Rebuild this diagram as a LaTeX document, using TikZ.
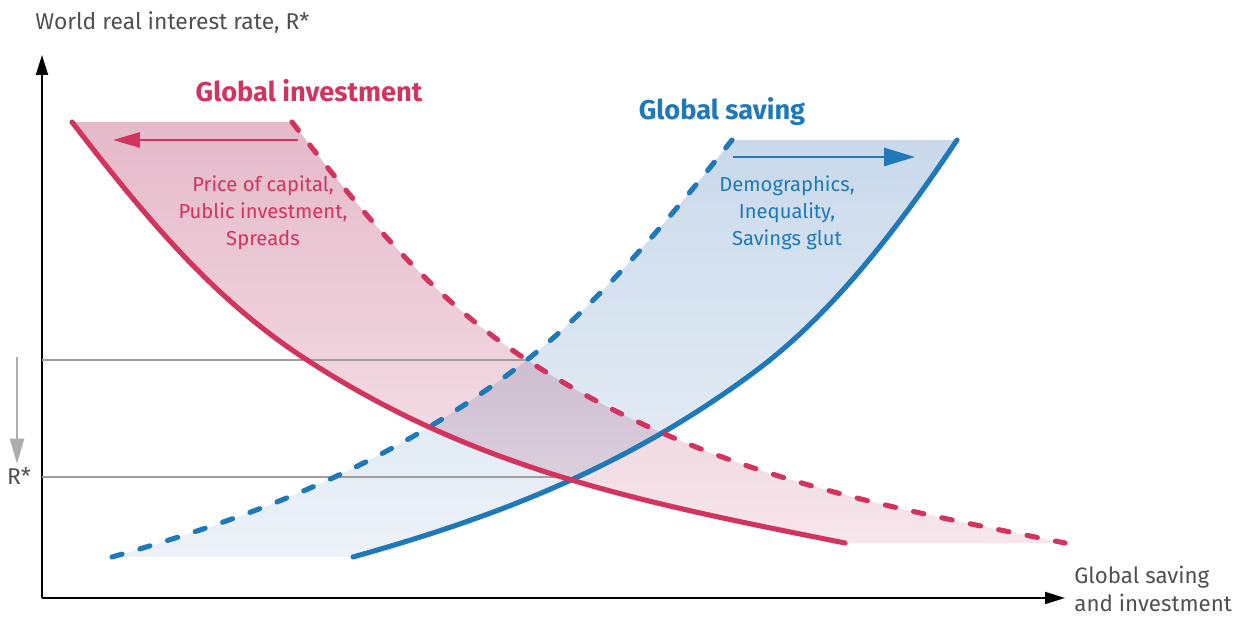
\documentclass[tikz,border=0pt]{standalone}
\usepackage{fontspec}
\setmainfont{Fira Sans}
\usetikzlibrary{arrows.meta}

\definecolor{invred}{HTML}{D2335F}
\definecolor{savblue}{HTML}{1F78B8}
\definecolor{invtop}{HTML}{E5B9C9}
\definecolor{invbot}{HTML}{F6E6EB}
\definecolor{savtop}{HTML}{C9D9EB}
\definecolor{savbot}{HTML}{EDF2F8}
\definecolor{axtext}{HTML}{505050}
\definecolor{guidegray}{HTML}{9E9E9E}

\begin{document}
\begin{tikzpicture}[
    x=0.02cm, y=-0.02cm,
    axis/.style={line width=1.1pt, -{Triangle[length=0.4cm, width=0.24cm]}},
    axlbl/.style={font=\fontsize{13}{16}\selectfont, text=axtext, align=left, inner sep=0pt},
    guide/.style={line width=1.1pt, guidegray},
    curve/.style={line width=2.9pt, line cap=round},
    dcurve/.style={curve, dash pattern=on 6pt off 10.5pt},
    movearr/.style={line width=1.6pt},
    title/.style={font=\fontsize{15.5}{18}\selectfont\bfseries, inner sep=0pt},
    note/.style={font=\fontsize{11.5}{15.4}\selectfont, align=center, inner sep=0pt},
  ]
  \useasboundingbox (0,0) rectangle (1236,617);

  % ===== Bands between the two positions of each curve =====
  \shade[top color=invtop, bottom color=invbot]
    (72,122) .. controls (152,226) and (217,301.5) .. (307,360)
    .. controls (477,470.5) and (645,503) .. (845,543)
    -- (1065,543) .. controls (865,503) and (697,470.5) .. (527,360)
    .. controls (437,301.5) and (372,226) .. (292,122) -- cycle;
  \begin{scope}[blend mode=multiply]
    \shade[top color=savtop, bottom color=savbot]
      (353,557) .. controls (488,519) and (622,471) .. (757,370)
      .. controls (827,317.5) and (892,237.5) .. (957,140)
      -- (732,140) .. controls (655,237.5) and (584,317.5) .. (514,370)
      .. controls (379,471) and (245,519) .. (112,557) -- cycle;
  \end{scope}

  % ===== Axes =====
  \coordinate (o) at (42,598);
  \coordinate (ytip) at (42,55);
  \coordinate (xtip) at (1065,598);
  \draw[axis] (o) -- (ytip);
  \draw[axis] (o) -- (xtip);
  \node[axlbl, anchor=west] (ylbl) at (35,22) {World real interest rate, R*};
  \node[axlbl, anchor=west, font=\fontsize{12.7}{15.5}\selectfont] (xlbl) at (1074,589) {Global saving\\and investment};

  % ===== Old and new equilibrium rates =====
  \coordinate (hi) at (529,360);
  \coordinate (lo) at (570,477);
  \draw[guide] (o |- hi) -- (hi);
  \draw[guide] (o |- lo) -- (lo);
  \node[axlbl, anchor=center] (rstar) at (19,476) {R*};
  \coordinate (rtop) at (17,357);
  \draw[guide, line width=1.4pt, guidegray!85, -{Triangle[length=0.5cm, width=0.28cm]}] (rtop) -- ([yshift=2pt]rtop |- rstar.north);

  % ===== Global saving =====
  \draw[curve, savblue] (353,557) .. controls (488,519) and (622,471) .. (757,370)
    .. controls (827,317.5) and (892,237.5) .. (957,140);
  \draw[dcurve, savblue] (112,557) .. controls (245,519) and (379,471) .. (514,370)
    .. controls (584,317.5) and (655,237.5) .. (732,140);
  \node[title, text=savblue] (savtitle) at (722,111) {Global saving};
  \coordinate (savfrom) at (733,157);
  \coordinate (savto) at (915,157);
  \draw[movearr, savblue, -{Triangle[length=0.62cm, width=0.36cm]}] (savfrom) -- (savto);
  \node[note, text=savblue] (savnote) at (787,213) {Demographics,\\Inequality,\\Savings glut};

  % ===== Global investment =====
  \draw[curve, invred] (72,122) .. controls (152,226) and (217,301.5) .. (307,360)
    .. controls (477,470.5) and (645,503) .. (845,543);
  \draw[dcurve, invred] (292,122) .. controls (372,226) and (437,301.5) .. (527,360)
    .. controls (697,470.5) and (865,503) .. (1065,543);
  \node[title, text=invred] (invtitle) at (309,91) {Global investment};
  \coordinate (invfrom) at (298,140);
  \coordinate (invto) at (113,140);
  \draw[movearr, invred, -{Triangle[length=0.54cm, width=0.3cm]}] (invfrom) -- (invto);
  \node[note, text=invred] (invnote) at (263,213) {Price of capital,\\Public investment,\\Spreads};

\end{tikzpicture}
\end{document}
